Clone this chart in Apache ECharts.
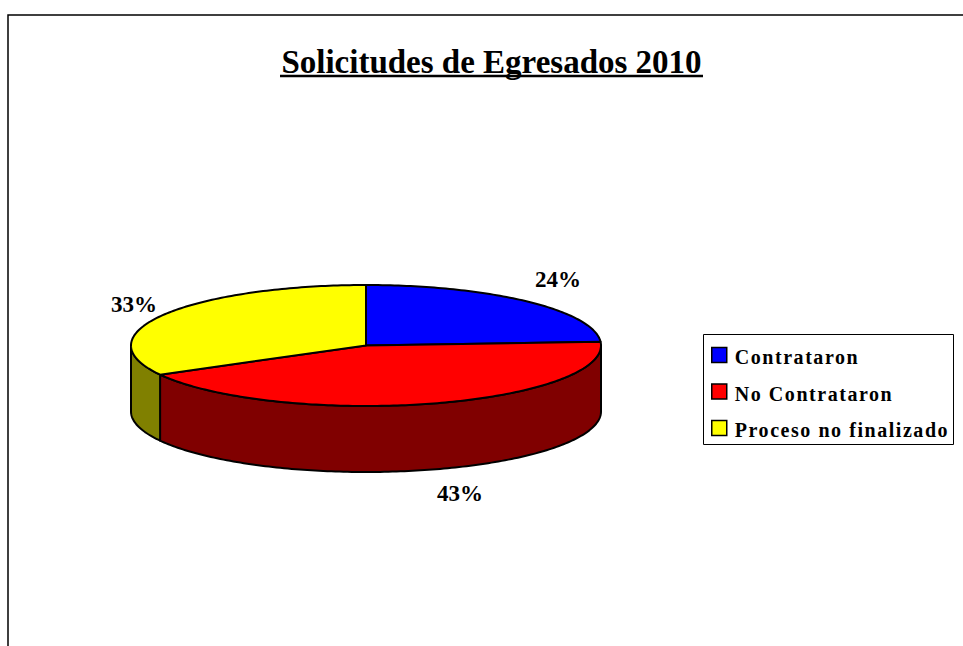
<!DOCTYPE html>
<html>
<head>
<meta charset="utf-8">
<title>Solicitudes de Egresados 2010</title>
<script src="https://cdn.jsdelivr.net/npm/echarts@6/dist/echarts.min.js"></script>
<style>
    html, body { margin: 0; padding: 0; background: #fff; }
    #chart { width: 963px; height: 646px; }
</style>
</head>
<body>
<div id="chart"></div>
<script>
const titleText = 'Solicitudes de Egresados 2010';
const categories = ['Contrataron', 'No Contrataron', 'Proceso no finalizado'];
const percents = [24, 43, 33];
const topColors = ['#0000ff', '#ff0000', '#ffff00'];
const sideColors = ['#000080', '#800000', '#808000'];

// 椭圆饼的几何参数
const cx = 366, cy = 345.5, rx = 235, ry = 60.5, depth = 66;
const labelPos = [[558, 279], [460, 493], [134, 304]];
const serif = '"Liberation Serif", serif';
const total = percents.reduce((a, b) => a + b, 0);

function pointAt(deg, dy) {
    const r = deg * Math.PI / 180;
    return [cx + rx * Math.sin(r), cy - ry * Math.cos(r) + dy];
}

function arcPoints(from, to, dy) {
    const pts = [];
    const n = Math.max(2, Math.ceil(Math.abs(to - from)));
    for (let i = 0; i <= n; i++) {
        pts.push(pointAt(from + (to - from) * i / n, dy));
    }
    return pts;
}

function makeRenderItem(index) {
    return function (params, api) {
        const before = percents.slice(0, index).reduce((a, b) => a + b, 0);
        const start = before / total * 360;
        const end = start + api.value(0) / total * 360;
        const children = [];
        // 侧面只画前半圈 (90° ~ 270°)
        const sideFrom = Math.max(start, 90), sideTo = Math.min(end, 270);
        if (sideTo > sideFrom) {
            const topArc = arcPoints(sideFrom, sideTo, 0);
            const bottomArc = arcPoints(sideTo, sideFrom, depth);
            children.push({
                type: 'polygon',
                shape: { points: topArc.concat(bottomArc) },
                style: { fill: sideColors[index], stroke: '#000', lineWidth: 2, lineJoin: 'round' }
            });
        }
        children.push({
            type: 'polygon',
            shape: { points: [[cx, cy]].concat(arcPoints(start, end, 0)) },
            style: { fill: topColors[index], stroke: '#000', lineWidth: 2, lineJoin: 'round' }
        });
        children.push({
            type: 'text',
            style: {
                x: labelPos[index][0], y: labelPos[index][1],
                text: api.value(0) + '%',
                fill: '#000', font: 'bold 23px ' + serif,
                align: 'center', verticalAlign: 'middle'
            }
        });
        return { type: 'group', children: children };
    };
}

const chart = echarts.init(document.getElementById('chart'), null, { renderer: 'svg' });
chart.setOption({
    animation: false,
    backgroundColor: '#fff',
    title: {
        text: titleText,
        left: 486.5,
        textAlign: 'center',
        top: 40,
        textStyle: { color: '#000', fontFamily: serif, fontWeight: 'bold', fontSize: 33 }
    },
    legend: {
        data: categories,
        orient: 'vertical',
        left: 704,
        top: 335,
        padding: [10, 6, 8, 7],
        itemWidth: 15,
        itemHeight: 15,
        itemGap: 16.5,
        icon: 'rect',
        selectedMode: false,
        itemStyle: { borderColor: '#000', borderWidth: 1.5 },
        textStyle: { color: '#000', fontFamily: serif, fontWeight: 'bold', fontSize: 20, padding: [0, 0, 0, 3] }
    },
    graphic: [
        { type: 'rect', silent: true, shape: { x: 8, y: 15, width: 1000, height: 700 },
          style: { fill: 'none', stroke: '#000', lineWidth: 1.5 } },
        { type: 'line', silent: true, shape: { x1: 280, y1: 76, x2: 703, y2: 76 },
          style: { stroke: '#000', lineWidth: 2.5 } },
        // 图例外框: 文字加了字距, 图例自身量不到, 所以单独画
        { type: 'rect', silent: true, shape: { x: 703.5, y: 334.5, width: 250, height: 110 },
          style: { fill: 'none', stroke: '#000', lineWidth: 1 } }
    ],
    series: categories.map((name, i) => ({
        type: 'custom',
        name: name,
        coordinateSystem: 'none',
        itemStyle: { color: topColors[i] },
        renderItem: makeRenderItem(i),
        data: [[percents[i]]]
    }))
});

// 原图的图例文字比较宽, svg 下加一点字距, 并略微下移
document.querySelectorAll('#chart svg text').forEach((t) => {
    if (categories.includes(t.textContent)) {
        t.setAttribute('letter-spacing', '1.55');
        t.setAttribute('dy', '2');
    }
});
</script>
</body>
</html>
